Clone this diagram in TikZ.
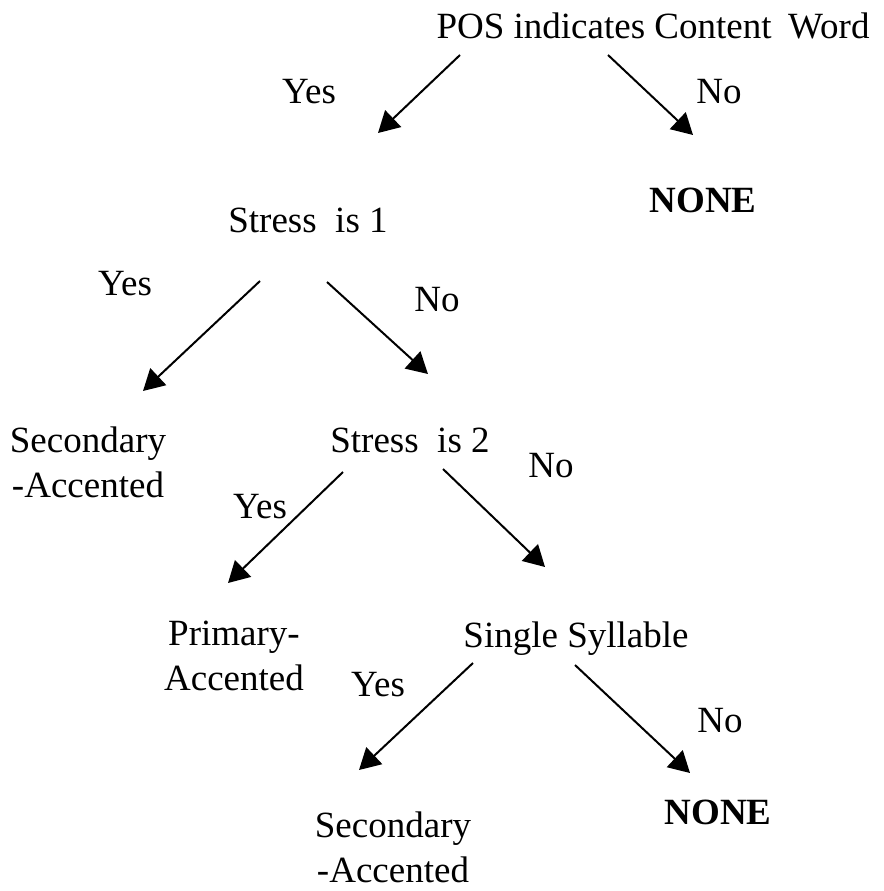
\documentclass[tikz,border=0pt]{standalone}
\usepackage{fontspec}
\setmainfont{Liberation Serif}
\usetikzlibrary{arrows.meta}
\begin{document}
\begin{tikzpicture}[x=1pt,y=-1pt,
  lbl/.style={anchor=base,inner sep=0pt,font=\fontsize{37}{45}\selectfont},
  ml/.style={lbl,align=center},
  bld/.style={lbl,font=\fontsize{37}{45}\selectfont\bfseries},
  arr/.style={line width=2pt,-{Triangle[length=21pt,width=23pt]}}]
\useasboundingbox (0,0) rectangle (883,891);
% nodes
\node[lbl] (pos) at (653,38) {POS indicates Content\hspace{0.45em}Word};
\node[lbl] (s1) at (308,232) {Stress\ \ is 1};
\node[bld] (none1) at (703,212) {NONE};
\node[ml,anchor=north] (sec1) at (88,427) {Secondary\\-Accented};
\node[lbl] (s2) at (410,452) {Stress\ \ is 2};
\node[ml,anchor=north] (prim) at (234,621) {Primary-\\Accented};
\node[lbl] (ss) at (576,647) {Single Syllable};
\node[ml,anchor=north] (sec2) at (393,812) {Secondary\\-Accented};
\node[bld] (none2) at (718,824) {NONE};
% edge labels
\node[lbl] (y1) at (309,103) {Yes};
\node[lbl] (n1) at (719,103) {No};
\node[lbl] (y2) at (125,295) {Yes};
\node[lbl] (n2) at (437,311) {No};
\node[lbl] (y3) at (260,518) {Yes};
\node[lbl] (n3) at (551,477) {No};
\node[lbl] (y4) at (378,696) {Yes};
\node[lbl] (n4) at (720,732) {No};
% connector ends
\coordinate (a1s) at (460,55);  \coordinate (a1e) at (378,133);
\coordinate (a2s) at (608,55);  \coordinate (a2e) at (693,135);
\coordinate (a3s) at (260,281); \coordinate (a3e) at (143,391);
\coordinate (a4s) at (327,282); \coordinate (a4e) at (428,374);
\coordinate (a5s) at (343,472); \coordinate (a5e) at (228,583);
\coordinate (a6s) at (443,469); \coordinate (a6e) at (545,567);
\coordinate (a7s) at (473,663); \coordinate (a7e) at (359,770);
\coordinate (a8s) at (575,665); \coordinate (a8e) at (690,773);
\draw[arr] (a1s) -- (a1e);
\draw[arr] (a2s) -- (a2e);
\draw[arr] (a3s) -- (a3e);
\draw[arr] (a4s) -- (a4e);
\draw[arr] (a5s) -- (a5e);
\draw[arr] (a6s) -- (a6e);
\draw[arr] (a7s) -- (a7e);
\draw[arr] (a8s) -- (a8e);
\end{tikzpicture}
\end{document}
